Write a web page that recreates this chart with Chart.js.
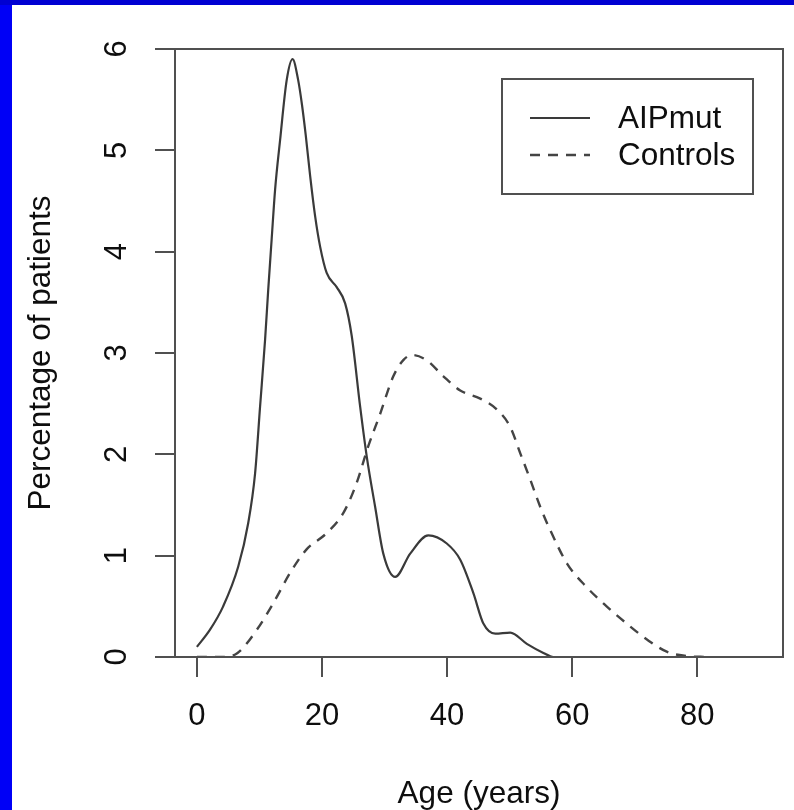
<!DOCTYPE html>
<html>
<head>
<meta charset="utf-8">
<script src="https://cdn.jsdelivr.net/npm/chart.js@4.4.1/dist/chart.umd.min.js"></script>
<style>
  html, body { margin: 0; padding: 0; background: #fff; }
  #wrap { position: relative; width: 794px; height: 810px; overflow: hidden; background: #fff; }
  .edge-left { position: absolute; left: 0; top: 0; width: 12px; height: 810px; background: #0000f6; }
  .edge-top { position: absolute; left: 0; top: 0; width: 794px; height: 5px; background: #0000d2; }
  canvas { position: absolute; left: 0; top: 0; }
</style>
</head>
<body>
<div id="wrap">
  <div class="edge-left"></div>
  <div class="edge-top"></div>
  <canvas id="myChart" width="794" height="810"></canvas>
</div>
<script>
// density curves (age in years, percentage of patients)
var aipAges   = [0, 2.1, 4.2, 6.6, 8.2, 9.3, 10.1, 10.9, 11.4, 11.95, 12.5, 13.3, 14.35, 15.3, 16.2, 16.8, 17.4, 18.1, 18.9, 19.7, 20.75, 22.35, 23.7, 24.75, 26.1, 27.15, 28.5, 29.8, 31.7, 34.1, 37.0, 39.95, 42.1, 44.2, 45.8, 47.7, 50.1, 52.75, 55.4, 57, 62];
var aipValues = [0.10, 0.27, 0.50, 0.89, 1.32, 1.81, 2.47, 3.13, 3.62, 4.12, 4.61, 5.10, 5.69, 5.90, 5.69, 5.45, 5.15, 4.75, 4.35, 4.05, 3.79, 3.65, 3.49, 3.17, 2.47, 1.98, 1.48, 1.02, 0.79, 1.02, 1.20, 1.12, 0.96, 0.63, 0.33, 0.23, 0.24, 0.13, 0.04, 0, 0];
var ctlAges   = [0, 4, 6.5, 9.6, 12.2, 14.9, 17.5, 20.7, 23.4, 25.5, 27.4, 29.3, 31.4, 33.0, 34.4, 36.7, 39.4, 42.1, 45.3, 48.0, 50.1, 51.7, 53.3, 54.9, 56.5, 59.2, 62.3, 65.5, 68.7, 72.0, 75.2, 78.3, 81.6];
var ctlValues = [0, 0, 0.04, 0.27, 0.53, 0.83, 1.06, 1.22, 1.42, 1.71, 2.08, 2.40, 2.77, 2.93, 2.98, 2.93, 2.77, 2.63, 2.55, 2.44, 2.27, 2.01, 1.75, 1.48, 1.25, 0.92, 0.69, 0.50, 0.33, 0.17, 0.05, 0.01, 0];
var seriesNames = ['AIPmut', 'Controls'];
var xTicks = [0, 20, 40, 60, 80];
var yTicks = [0, 1, 2, 3, 4, 5, 6];

function toPoints(xs, ys) {
    return xs.map(function(x, i){ return {x: x, y: ys[i]}; });
}

var family = '"Liberation Sans", Arial, sans-serif';
var tickFont = {family: family, size: 31};
var titleFont = {family: family, size: 31.5};
var inkColor = '#0e0e0e';
var axisColor = '#505050';

// R style box round the plot area
var frame = {
    id: 'frame',
    afterDatasetsDraw: function(chart){
        var ctx = chart.ctx, ca = chart.chartArea;
        ctx.save();
        ctx.strokeStyle = axisColor;
        ctx.lineWidth = 2;
        ctx.strokeRect(ca.left, ca.top, ca.right - ca.left, ca.bottom - ca.top);
        ctx.restore();
    }
};

// legend in the top right corner of the plot, like legend("topright")
var insetLegend = {
    id: 'insetLegend',
    afterDraw: function(chart){
        var ctx = chart.ctx, ca = chart.chartArea;
        var w = 251, h = 115;
        var x = ca.right - 30 - w, y = ca.top + 30;
        ctx.save();
        ctx.fillStyle = '#fff';
        ctx.fillRect(x, y, w, h);
        ctx.strokeStyle = axisColor;
        ctx.lineWidth = 2;
        ctx.strokeRect(x, y, w, h);
        chart.data.datasets.forEach(function(ds, i){
            var ly = y + 39 + i * 37;
            ctx.strokeStyle = ds.borderColor;
            ctx.lineWidth = ds.borderWidth;
            ctx.setLineDash(ds.borderDash || []);
            ctx.beginPath();
            ctx.moveTo(x + 28, ly);
            ctx.lineTo(x + 88, ly);
            ctx.stroke();
            ctx.setLineDash([]);
            ctx.fillStyle = inkColor;
            ctx.font = titleFont.size + 'px ' + family;
            ctx.textBaseline = 'middle';
            ctx.textAlign = 'left';
            ctx.fillText(ds.label, x + 116, ly + 1);
        });
        ctx.restore();
    }
};

var ctx = document.getElementById('myChart').getContext('2d');
var chart = new Chart(ctx, {
    type: 'line',
    data: {
        datasets: [{
            label: seriesNames[0],
            data: toPoints(aipAges, aipValues),
            borderColor: '#3a3a3a',
            borderWidth: 2.2,
            pointRadius: 0,
            fill: false,
            cubicInterpolationMode: 'monotone'
        }, {
            label: seriesNames[1],
            data: toPoints(ctlAges, ctlValues),
            borderColor: '#444',
            borderWidth: 2.4,
            borderDash: [10, 8],
            pointRadius: 0,
            fill: false,
            cubicInterpolationMode: 'monotone'
        }]
    },
    options: {
        responsive: false,
        animation: false,
        devicePixelRatio: 1,
        layout: {padding: {left: 12, top: 49, right: 11, bottom: 0}},
        plugins: {legend: {display: false}, tooltip: {enabled: false}},
        scales: {
            x: {
                type: 'linear',
                min: -3.5,
                max: 93.7,
                afterBuildTicks: function(axis){ axis.ticks = xTicks.map(function(v){ return {value: v}; }); },
                afterFit: function(axis){ axis.height = 153; },
                border: {display: false},
                grid: {drawOnChartArea: false, drawTicks: true, tickLength: 20, color: axisColor, lineWidth: 2},
                ticks: {font: tickFont, color: inkColor, padding: 21, maxRotation: 0},
                title: {display: true, text: 'Age (years)', font: {family: family, size: 31.5, lineHeight: 1}, color: inkColor, padding: {top: 0, bottom: 0}}
            },
            y: {
                min: 0,
                max: 6,
                afterBuildTicks: function(axis){ axis.ticks = yTicks.map(function(v){ return {value: v}; }); },
                afterFit: function(axis){ axis.width = 163; },
                border: {display: false},
                grid: {drawOnChartArea: false, drawTicks: true, tickLength: 20, color: axisColor, lineWidth: 2},
                ticks: {font: tickFont, color: inkColor, padding: 29, minRotation: 90, maxRotation: 90, crossAlign: 'center'},
                title: {display: true, text: 'Percentage of patients', font: titleFont, color: inkColor, padding: {top: 10, bottom: 0}}
            }
        }
    },
    plugins: [frame, insetLegend]
});
</script>
</body>
</html>
